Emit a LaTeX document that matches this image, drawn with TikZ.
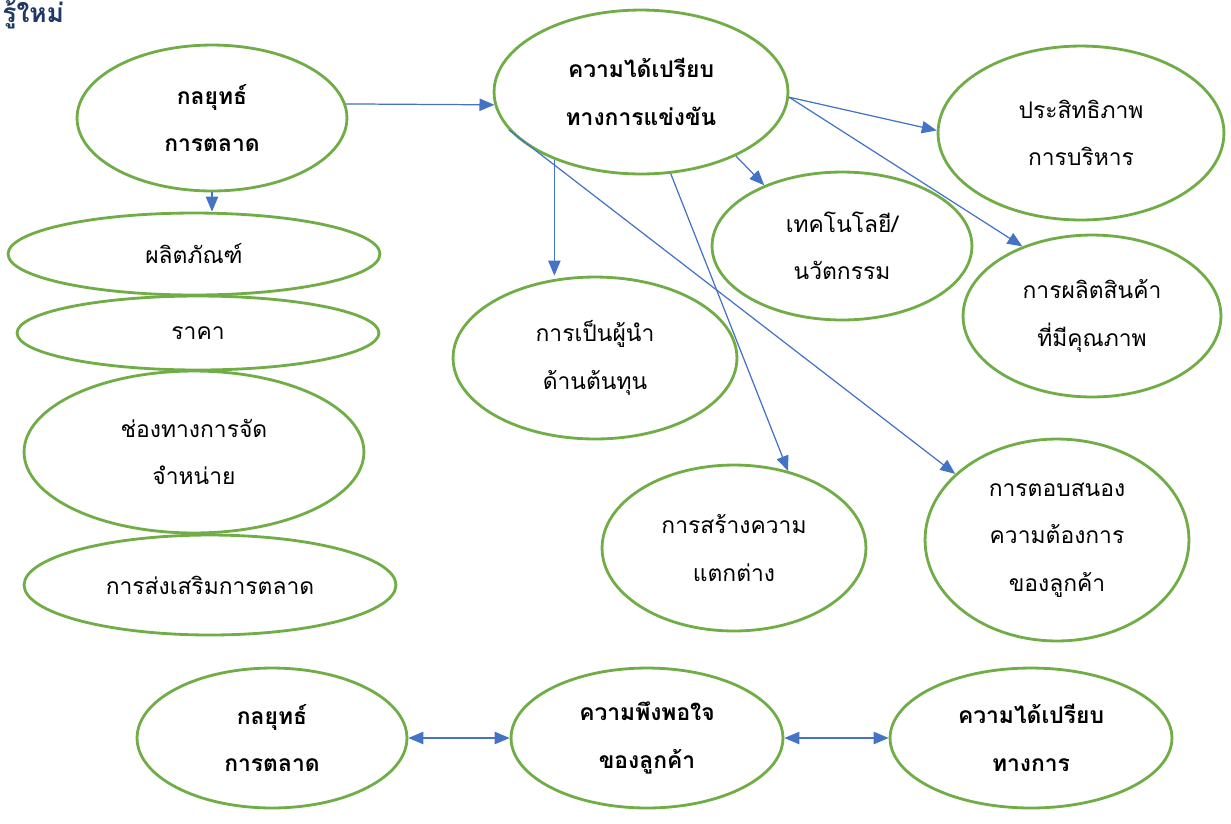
\documentclass[tikz,border=0pt]{standalone}
\usepackage{fontspec}
\setmainfont[Script=Thai]{Loma}
\usepackage{tikz}
\usetikzlibrary{arrows.meta}
\usetikzlibrary{shapes.geometric}

\definecolor{ovalgreen}{RGB}{112,173,71}
\definecolor{linkblue}{RGB}{68,114,196}
\definecolor{titleblue}{RGB}{31,56,100}

\tikzset{
	oval/.style={draw=ovalgreen, line width=1.6pt, ellipse, inner sep=0pt,
		align=center, font=\fontsize{13}{27}\selectfont},
	ovalbold/.style={oval, font=\fontsize{13}{27}\selectfont\bfseries},
	ovalsize/.style 2 args={minimum width=#1*0.04cm, minimum height=#2*0.04cm},
	link/.style={draw=linkblue, line width=0.7pt,
		-{Triangle[length=8.5pt,width=7pt]}},
	linkboth/.style={draw=linkblue, line width=0.7pt,
		{Triangle[length=8.5pt,width=7pt]}-{Triangle[length=8.5pt,width=7pt]}},
}

\begin{document}
\begin{tikzpicture}[x=0.02cm, y=-0.02cm]
			\useasboundingbox (0,0) rectangle (1231,823);
			% Heading
			\node [anchor=base west, inner sep=0pt, text=titleblue,
				font=\fontsize{15}{18}\selectfont\bfseries] (title) at (2,22) {รู้ใหม่};
			% Marketing mix
			\node [ovalbold, ovalsize={135}{73}] (strat) at (212,118) {กลยุทธ์\\การตลาด};
			\node [oval, ovalsize={186}{41}] (prod) at (194,254) {ผลิตภัณฑ์};
			\node [oval, ovalsize={181}{37}] (price) at (198,333) {ราคา};
			\node [oval, ovalsize={170}{81}] (place) at (194,452) {ช่องทางการจัด\\จำหน่าย};
			\node [oval, ovalsize={186}{50}] (promo) at (210,585) {การส่งเสริมการตลาด};
			% Competitive advantage
			\node [ovalbold, ovalsize={147}{82}] (adv) at (641,92) {ความได้เปรียบ\\ทางการแข่งขัน};
			\node [oval, ovalsize={143}{87}] (eff) at (1081,133) {ประสิทธิภาพ\\การบริหาร};
			\node [oval, ovalsize={130}{74}] (tech) at (842,246) {เทคโนโลยี/\\นวัตกรรม};
			\node [oval, ovalsize={129}{81}] (qual) at (1092,316) {การผลิตสินค้า\\ที่มีคุณภาพ};
			\node [oval, ovalsize={142}{81}] (cost) at (595,358) {การเป็นผู้นำ\\ด้านต้นทุน};
			\node [oval, ovalsize={132}{83}] (diff) at (734,548) {การสร้างความ\\แตกต่าง};
			\node [oval, ovalsize={132}{101}] (resp) at (1057,540) {การตอบสนอง\\ความต้องการ\\ของลูกค้า};
			% Bottom row
			\node [ovalbold, ovalsize={135}{70}] (bstrat) at (272,738) {กลยุทธ์\\การตลาด};
			\node [ovalbold, ovalsize={136}{70}] (sat) at (647,738) {ความพึงพอใจ\\ของลูกค้า};
			\node [ovalbold, ovalsize={141}{70}] (badv) at (1031,738) {ความได้เปรียบ\\ทางการ};
			% Links
			\draw [link] (strat.6) -- (adv.185);
			\draw [link] (strat.south) -- (strat.south |- prod.north);
			\draw [link] (adv.218) -- (adv.218 |- cost.north);
			\draw [link] (adv.-34) -- (tech.142);
			\draw [link] (adv.-2) -- (eff.179);
			\draw [link] (adv.-2) -- (qual.135);
			\draw [link] (adv.196) -- (resp.147);
			\draw [link] (adv.-70) -- (diff.55);
			\draw [linkboth] (bstrat.east) -- (sat.west);
			\draw [linkboth] (sat.east) -- (badv.west);
		\end{tikzpicture}
\end{document}
